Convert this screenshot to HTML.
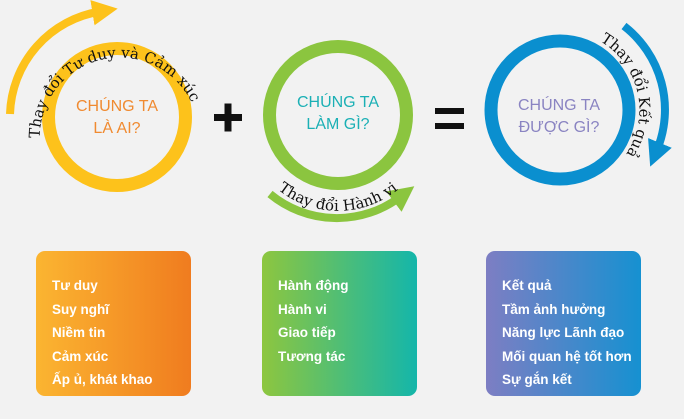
<!DOCTYPE html>
<html><head><meta charset="utf-8"><style>
body{margin:0;background:#f2f2f2;width:684px;height:419px;overflow:hidden;font-family:"Liberation Sans",sans-serif}
.box{position:absolute;top:251px;width:155px;height:145px;border-radius:9px;color:#fff;font-weight:bold;font-size:13.5px;box-sizing:border-box;padding:23px 0 0 16px;line-height:23.5px}
</style></head><body>
<svg width="684" height="419" style="position:absolute;left:0;top:0">
<defs>
<marker id="mY" viewBox="0 0 10 10" refX="3" refY="5" markerWidth="3.2" markerHeight="3.2" orient="auto" markerUnits="strokeWidth"><path d="M0,0 L10,5 L0,10z" fill="#fdc21b"/></marker>
<marker id="mG" viewBox="0 0 10 10" refX="3" refY="5" markerWidth="3.2" markerHeight="3.2" orient="auto" markerUnits="strokeWidth"><path d="M0,0 L10,5 L0,10z" fill="#8bc53f"/></marker>
<marker id="mB" viewBox="0 0 10 10" refX="3" refY="5" markerWidth="3.2" markerHeight="3.2" orient="auto" markerUnits="strokeWidth"><path d="M0,0 L10,5 L0,10z" fill="#0a8fcf"/></marker>
<path id="t1" d="M39.7,138.2 A80,80 0 0 1 197,117"/>
<path id="t2" d="M255,163 A96,96 0 0 0 421,163"/>
<path id="t3" d="M600,41 A80,80 0 0 1 587,185"/>
</defs>
<circle cx="117" cy="117" r="68.5" fill="none" stroke="#fdc21b" stroke-width="13"/>
<circle cx="338" cy="115" r="68.5" fill="none" stroke="#8bc53f" stroke-width="13"/>
<circle cx="560" cy="110" r="69" fill="none" stroke="#0a8fcf" stroke-width="13"/>
<path d="M10,114 A107,107 0 0 1 100,11.5" fill="none" stroke="#fdc21b" stroke-width="8" marker-end="url(#mY)"/>
<path d="M270,194 A105,105 0 0 0 400,197" fill="none" stroke="#8bc53f" stroke-width="8" marker-end="url(#mG)"/>
<path d="M624,26 A106,106 0 0 1 657,150" fill="none" stroke="#0a8fcf" stroke-width="8" marker-end="url(#mB)"/>
<text font-family="DejaVu Serif,serif" font-size="15" fill="#111"><textPath href="#t1">Thay đổi Tư duy và Cảm xúc</textPath></text>
<text font-family="DejaVu Serif,serif" font-size="15" fill="#111"><textPath href="#t2" startOffset="50%" text-anchor="middle">Thay đổi Hành vi</textPath></text>
<text font-family="DejaVu Serif,serif" font-size="15" fill="#111"><textPath href="#t3">Thay đổi Kết quả</textPath></text>
<g font-size="16" text-anchor="middle">
<text x="117" y="111" fill="#f08a30">CHÚNG TA</text><text x="117" y="133" fill="#f08a30">LÀ AI?</text>
<text x="338" y="107" fill="#1bb0b5">CHÚNG TA</text><text x="338" y="129" fill="#1bb0b5">LÀM GÌ?</text>
<text x="559" y="110" fill="#8a84c2">CHÚNG TA</text><text x="559" y="132" fill="#8a84c2">ĐƯỢC GÌ?</text>
</g>
<rect x="214" y="114" width="28" height="7" fill="#111"/><rect x="224.5" y="103.5" width="7" height="28" fill="#111"/>
<rect x="435" y="108" width="29" height="6" fill="#111"/><rect x="435" y="123" width="29" height="6" fill="#111"/>
</svg>
<div class="box" style="left:36px;background:linear-gradient(90deg,#fbb531,#f07c1f)">Tư duy<br>Suy nghĩ<br>Niềm tin<br>Cảm xúc<br>Ấp ủ, khát khao</div>
<div class="box" style="left:262px;background:linear-gradient(90deg,#8dc63f,#14b6aa)">Hành động<br>Hành vi<br>Giao tiếp<br>Tương tác</div>
<div class="box" style="left:486px;background:linear-gradient(90deg,#7d7ec3,#1691d1)">Kết quả<br>Tầm ảnh hưởng<br>Năng lực Lãnh đạo<br>Mối quan hệ tốt hơn<br>Sự gắn kết</div>
</body></html>
